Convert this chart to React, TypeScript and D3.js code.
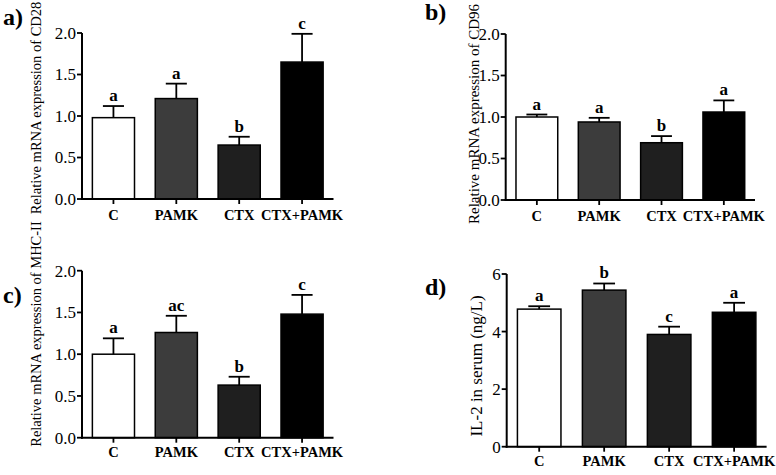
import React from "react";
import * as d3 from "d3";

const categories = ["C", "PAMK", "CTX", "CTX+PAMK"];
const barFills = ["#ffffff", "#3c3c3c", "#1f1f1f", "#000000"];

const cd28Mean = [0.98, 1.21, 0.65, 1.65];
const cd28Err = [0.14, 0.18, 0.1, 0.34];
const cd28Letters = ["a", "a", "b", "c"];

const cd96Mean = [1.0, 0.94, 0.69, 1.06];
const cd96Err = [0.03, 0.05, 0.08, 0.14];
const cd96Letters = ["a", "a", "b", "a"];

const mhcMean = [1.0, 1.26, 0.63, 1.48];
const mhcErr = [0.19, 0.2, 0.1, 0.23];
const mhcLetters = ["a", "ac", "b", "c"];

const il2Mean = [4.78, 5.44, 3.9, 4.67];
const il2Err = [0.1, 0.23, 0.27, 0.33];
const il2Letters = ["a", "b", "c", "a"];

const ratioTicks = [0, 0.5, 1.0, 1.5, 2.0];
const il2Ticks = [0, 2, 4, 6];

const FONT = "'Liberation Serif', 'Times New Roman', serif";

type PanelProps = {
  tag: string;
  tagX: number;
  tagY: number;
  yLabel: string;
  yLabelX: number;
  yLabelY: number;
  yLabelSize: number;
  x0: number;
  x1: number;
  yBottom: number;
  yTop: number;
  yMax: number;
  ticks: number[];
  tickFmt: (v: number) => string;
  means: number[];
  errs: number[];
  letters: string[];
  catDy: number;
};

function Panel(p: PanelProps) {
  const x = d3
    .scaleBand<string>()
    .domain(categories)
    .range([p.x0, p.x1])
    .paddingInner(0.33)
    .paddingOuter(0.165);
  const y = d3.scaleLinear().domain([0, p.yMax]).range([p.yBottom, p.yTop]);
  const bw = x.bandwidth();
  return (
    <g fontFamily={FONT} fill="#000">
      <text x={p.tagX} y={p.tagY} fontSize={24} fontWeight="bold">
        {p.tag}
      </text>
      <text
        transform={`translate(${p.yLabelX},${p.yLabelY}) rotate(-90)`}
        textAnchor="middle"
        dy="0.35em"
        fontSize={p.yLabelSize}
      >
        {p.yLabel}
      </text>
      {categories.map((c, i) => {
        const xl = x(c)!;
        const cx = xl + bw / 2;
        const top = y(p.means[i]);
        const et = y(p.means[i] + p.errs[i]);
        return (
          <g key={c}>
            <rect
              x={xl}
              y={top}
              width={bw}
              height={p.yBottom - top}
              fill={barFills[i]}
              stroke="#000"
              strokeWidth={1.5}
            />
            <line x1={cx} x2={cx} y1={top} y2={et} stroke="#000" strokeWidth={1.8} />
            <line x1={cx - bw / 4} x2={cx + bw / 4} y1={et} y2={et} stroke="#000" strokeWidth={1.8} />
            <text x={cx} y={et - 5} textAnchor="middle" fontSize={17} fontWeight="bold">
              {p.letters[i]}
            </text>
            <line x1={cx} x2={cx} y1={p.yBottom} y2={p.yBottom + 5} stroke="#000" strokeWidth={1.8} />
            <text x={cx} y={p.yBottom + p.catDy} textAnchor="middle" fontSize={14.5} fontWeight="bold">
              {c}
            </text>
          </g>
        );
      })}
      {p.ticks.map((t) => (
        <g key={t}>
          <line x1={p.x0 - 5} x2={p.x0} y1={y(t)} y2={y(t)} stroke="#000" strokeWidth={1.8} />
          <text x={p.x0 - 6} y={y(t)} dy="0.35em" textAnchor="end" fontSize={17}>
            {p.tickFmt(t)}
          </text>
        </g>
      ))}
      <line x1={p.x0} x2={p.x0} y1={p.yBottom + 1} y2={p.yTop} stroke="#000" strokeWidth={2} />
      <line x1={p.x0 - 1} x2={p.x1} y1={p.yBottom} y2={p.yBottom} stroke="#000" strokeWidth={2} />
    </g>
  );
}

export default function App() {
  const f1 = (v: number) => d3.format(".1f")(v);
  const f0 = (v: number) => d3.format("d")(v);
  return (
    <svg
      width={776}
      height={475}
      style={{ position: "absolute", left: 0, top: 0, background: "#fff" }}
    >
      <rect width={776} height={475} fill="#fff" />
      <Panel
        tag="a)"
        tagX={3}
        tagY={25}
        yLabel="Relative mRNA expression of CD28"
        yLabelX={36}
        yLabelY={108}
        yLabelSize={14.5}
        x0={82}
        x1={333.5}
        yBottom={199}
        yTop={33}
        yMax={2}
        ticks={ratioTicks}
        tickFmt={f1}
        means={cd28Mean}
        errs={cd28Err}
        letters={cd28Letters}
        catDy={21}
      />
      <Panel
        tag="b)"
        tagX={425}
        tagY={20}
        yLabel="Relative mRNA expression of CD96"
        yLabelX={474}
        yLabelY={114}
        yLabelSize={15}
        x0={505.7}
        x1={755}
        yBottom={200}
        yTop={34}
        yMax={2}
        ticks={ratioTicks}
        tickFmt={f1}
        means={cd96Mean}
        errs={cd96Err}
        letters={cd96Letters}
        catDy={21}
      />
      <Panel
        tag="c)"
        tagX={3}
        tagY={303}
        yLabel="Relative mRNA expression of MHC-II"
        yLabelX={36}
        yLabelY={334}
        yLabelSize={14.5}
        x0={82}
        x1={333.5}
        yBottom={437.7}
        yTop={270.7}
        yMax={2}
        ticks={ratioTicks}
        tickFmt={f1}
        means={mhcMean}
        errs={mhcErr}
        letters={mhcLetters}
        catDy={19}
      />
      <Panel
        tag="d)"
        tagX={425}
        tagY={295}
        yLabel="IL-2 in serum (ng/L)"
        yLabelX={476}
        yLabelY={366}
        yLabelSize={17}
        x0={506.7}
        x1={766.6}
        yBottom={446.7}
        yTop={274}
        yMax={6}
        ticks={il2Ticks}
        tickFmt={f0}
        means={il2Mean}
        errs={il2Err}
        letters={il2Letters}
        catDy={19}
      />
    </svg>
  );
}
